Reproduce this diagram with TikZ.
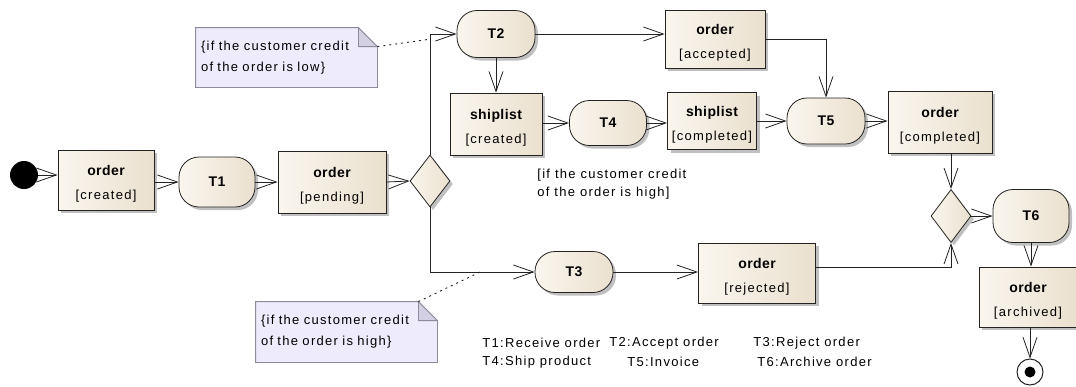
\documentclass[tikz,border=0pt]{standalone}
\usepackage{fontspec}
\setmainfont{Liberation Sans}[LetterSpace=10]
\newfontfamily\bfam{Liberation Sans}[LetterSpace=3]
\usetikzlibrary{arrows.meta,shapes.geometric,shadows,backgrounds}
\definecolor{objL}{RGB}{250,246,238}
\definecolor{objR}{RGB}{234,224,206}
\definecolor{edgec}{RGB}{35,35,35}
\definecolor{notefill}{RGB}{238,236,252}
\definecolor{noteedge}{RGB}{140,140,156}
\definecolor{notefold}{RGB}{210,208,226}
\newcommand\objtext[2]{\rule{0pt}{18pt}{\bfam\bfseries\fontsize{14}{24}\selectfont #1}\\\relax #2}
\begin{document}
\begin{tikzpicture}[x=1pt,y=-1pt,line width=0.8pt,
  shad/.style={drop shadow={shadow xshift=3pt,shadow yshift=-3pt,fill=black!45,opacity=0.55}},
  obj/.style={rectangle,draw=edgec,left color=objL,right color=objR,inner sep=0pt,align=center,
    font=\fontsize{13}{24}\selectfont,shad},
  act/.style={rectangle,rounded corners=20pt,draw=edgec,left color=objL,right color=objR,inner sep=0pt,
    font=\bfam\bfseries\fontsize{14}{15}\selectfont,shad},
  dec/.style={diamond,draw=edgec,left color=objL,right color=objR,inner sep=0pt,shad},
  arr/.style={draw=edgec,-{Straight Barb[length=20pt,width=14pt]}},
  link/.style={draw=edgec,line width=0.9pt,dash pattern=on 2pt off 4pt},
  notebox/.style={rectangle,inner xsep=5pt,inner ysep=0pt,align=left,font=\fontsize{13}{21}\selectfont},
  notefrm/.style={draw=noteedge,fill=notefill,line width=0.8pt},
  foldfrm/.style={draw=noteedge,fill=notefold,line width=0.8pt},
  txt/.style={inner sep=0pt,anchor=west,align=left,font=\fontsize{13}{18.5}\selectfont}]
\useasboundingbox (0,0) rectangle (1076,386);

% nodes
\node[circle,fill=black,minimum size=28pt,inner sep=0pt] (init) at (24,175) {};
\node[obj,minimum width=96pt,minimum height=60pt] (oc) at (106,180) {\objtext{order}{[created]}};
\node[act,minimum width=76pt,minimum height=50pt] (T1) at (217,182) {T1};
\node[obj,minimum width=108pt,minimum height=62pt] (op) at (332,182) {\objtext{order}{[pending]}};
\node[dec,minimum width=40pt,minimum height=52pt] (d1) at (430,181) {};
\node[act,minimum width=78pt,minimum height=47pt] (T2) at (496,34) {T2};
\node[obj,minimum width=100pt,minimum height=58pt] (oa) at (715,39) {\objtext{order}{[accepted]}};
\node[obj,minimum width=92pt,minimum height=62pt] (sc) at (496,124) {\objtext{shiplist}{[created]}};
\node[act,minimum width=77pt,minimum height=45pt] (T4) at (608,123) {T4};
\node[obj,minimum width=89pt,minimum height=57pt] (sp) at (712,121) {\objtext{shiplist}{[completed]}};
\node[act,minimum width=78pt,minimum height=46pt] (T5) at (826,121) {T5};
\node[obj,minimum width=104pt,minimum height=62pt] (ocomp) at (940,122) {\objtext{order}{[completed]}};
\node[dec,minimum width=40pt,minimum height=53pt] (d2) at (951,216) {};
\node[act,minimum width=76pt,minimum height=53pt] (T6) at (1031,216) {T6};
\node[obj,minimum width=98pt,minimum height=60pt] (oar) at (1028,297) {\objtext{order}{[archived]}};
\node[circle,draw=edgec,fill=white,line width=1pt,minimum size=26pt,inner sep=0pt] (final) at (1030,372) {};
\node[circle,fill=black,minimum size=11pt,inner sep=0pt] (finaldot) at (final) {};
\node[act,minimum width=78pt,minimum height=41pt] (T3) at (574,272) {T3};
\node[obj,minimum width=117pt,minimum height=60pt] (orj) at (757,273) {\objtext{order}{[rejected]}};

% notes
\node[notebox,minimum width=181pt,minimum height=59pt,text width=171pt] (n1) at (286.5,57.5)
  {\{if the customer credit\\of the order is low\}};
\node[notebox,minimum width=181pt,minimum height=60pt,text width=171pt] (n2) at (346.5,332)
  {\{if the customer credit\\of the order is high\}};
\begin{scope}[on background layer]
\draw[notefrm] (n1.north west) -- ([xshift=-19pt]n1.north east) -- ([yshift=-19pt]n1.north east)
  -- (n1.south east) -- (n1.south west) -- cycle;
\draw[foldfrm] ([xshift=-19pt]n1.north east) -- ([xshift=-19pt,yshift=-19pt]n1.north east)
  -- ([yshift=-19pt]n1.north east) -- cycle;
\draw[notefrm] (n2.north west) -- ([xshift=-19pt]n2.north east) -- ([yshift=-19pt]n2.north east)
  -- (n2.south east) -- (n2.south west) -- cycle;
\draw[foldfrm] ([xshift=-19pt]n2.north east) -- ([xshift=-19pt,yshift=-19pt]n2.north east)
  -- ([yshift=-19pt]n2.north east) -- cycle;
\end{scope}
\coordinate (c1) at (431,39);
\coordinate (c2) at (480,272);
\draw[link] ([yshift=-19pt]n1.north east) -- (c1);
\draw[link] ([xshift=-19pt]n2.north east) -- (c2);

% guard label
\node[txt] (guard) at (537,184) {[if the customer credit\\of the order is high]};

% legend
\node[txt] (lg1) at (482,343) {T1:Receive order};
\node[txt] (lg2) at (609,343) {T2:Accept order};
\node[txt] (lg3) at (753,343) {T3:Reject order};
\node[txt] (lg4) at (482,362) {T4:Ship product};
\node[txt] (lg5) at (627,362) {T5:Invoice};
\node[txt] (lg6) at (757,362) {T6:Archive order};

% connectors
\draw[arr] (init.east) -- (init.east -| oc.west);
\draw[arr] (oc.east |- T1.west) -- (T1.west);
\draw[arr] (T1.east) -- (op.west);
\draw[arr] (op.east) -- (d1.west);
\draw[arr] (d1.north) |- (T2.west);
\draw[arr] (d1.south) |- (T3.west);
\draw[arr] (T2.east) -- (T2.east -| oa.west);
\draw[arr] (T2.south) -- (sc.north);
\draw[arr] (sc.east |- T4.west) -- (T4.west);
\draw[arr] (T4.east) -- (T4.east -| sp.west);
\draw[arr] (sp.east) -- (sp.east -| T5.west);
\draw[arr] (oa.east) -| (T5.north);
\draw[arr] (T5.east) -- (T5.east -| ocomp.west);
\draw[arr] (ocomp.south -| d2.north) -- (d2.north);
\draw[arr] (T3.east) -- (T3.east -| orj.west);
\draw[arr] ([yshift=6pt]orj.east) -| (d2.south);
\draw[arr] (d2.east) -- (T6.west);
\draw[arr] (T6.south) -- (T6.south |- oar.north);
\draw[arr] (final.north |- oar.south) -- (final.north);
\end{tikzpicture}
\end{document}
